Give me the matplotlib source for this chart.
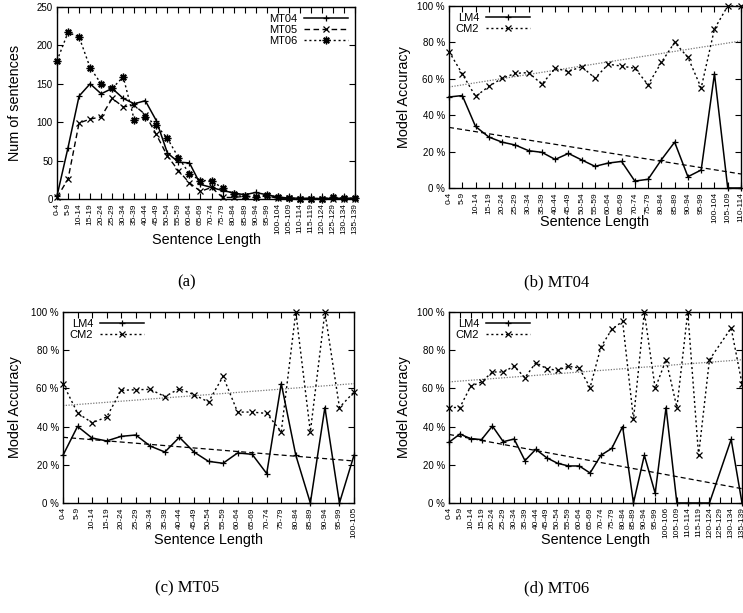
import numpy as np
import matplotlib
matplotlib.use("Agg")
import matplotlib.pyplot as plt
from matplotlib import font_manager

# ---------------- data ----------------
cats_a = ["0-4", "5-9", "10-14", "15-19", "20-24", "25-29", "30-34", "35-39", "40-44",
          "45-49", "50-54", "55-59", "60-64", "65-69", "70-74", "75-79", "80-84", "85-89",
          "90-94", "95-99", "100-104", "105-109", "110-114", "115-119", "120-124",
          "125-129", "130-134", "135-139"]
mt04 = [4, 67, 134, 150, 137, 144, 131, 124, 128, 102, 60, 48, 47, 19, 15, 11, 8, 5.5,
        8.5, 5.5, 2.5, 1.3, 1, 1, 0.5, 1, 1, 1]
mt05 = [2, 26, 99, 104, 107, 131, 120, 122, 110, 84, 56, 37, 21, 10, 15, 2, 2, 3.5,
        2, 4, 1, 1, 0.5, 0.5, 0, 0, 0, 0]
mt06 = [180, 217, 211, 171, 150, 144, 159, 103, 107, 96, 79, 54, 33, 24, 24, 14, 6.5, 4,
        2.5, 5.5, 2.5, 1, 0.5, 0.5, 0.5, 2, 1, 1]

cats_b = cats_a[:23]
lm4_b = [50, 50.8, 33.8, 28, 25.2, 23.6, 20.5, 19.6, 15.7, 19, 15.4, 11.9, 13.7, 14.6,
         3.8, 4.8, 15.5, 25.2, 6.2, 9.9, 62.7, 0, 0]
cm2_b = [75, 62.7, 50.3, 55.8, 60.3, 63, 63.4, 57, 65.8, 64, 66.7, 60.3, 68, 67, 65.8,
         56.7, 69, 80, 71.8, 55, 87.4, 100, 100]
fit_lm4_b = [33.3, 7.7]
fit_cm2_b = [55.5, 80.8]

cats_c = cats_a[:20] + ["100-105"]
lm4_c = [25, 40.1, 34, 32.5, 34.9, 35.6, 29.8, 26.7, 34.4, 26.7, 21.8, 20.8, 26.2, 25.5,
         15.4, 62.5, 25, 0, 50, 0, 25]
cm2_c = [62.5, 47.1, 42, 45, 59, 59.3, 59.5, 55.7, 59.9, 56.7, 52.9, 66.3, 47.6, 47.6,
         46.9, 37.3, 100, 37.3, 100, 50, 58.1]
fit_lm4_c = [34.4, 22]
fit_cm2_c = [51, 62.5]

cats_d = cats_a[:20] + ["100-106"] + cats_a[21:]
lm4_d = [31.8, 36.1, 33.7, 33.2, 40.3, 32.1, 33.5, 22.2, 28.1, 23.7, 20.8, 19.4, 19.4,
         15.7, 25, 28.6, 40, 0, 25, 5.1, 50, 0, 0, 0, 0, np.nan, 33.3, 0]
cm2_d = [50, 50, 61.1, 63.4, 68.6, 68.6, 71.6, 65.6, 73.5, 70.3, 69.5, 71.6, 70.7, 60.4,
         81.7, 90.9, 95.1, 43.8, 100, 60, 75, 50, 100, 25, 75, np.nan, 91.6, 62.5]
fit_lm4_d = [35.9, 7.5]
fit_cm2_d = [63.4, 75]

# ---------------- style ----------------
plt.rcParams['font.family'] = ['Liberation Sans', 'DejaVu Sans']
installed = {f.name for f in font_manager.fontManager.ttflist}
if 'Liberation Sans Narrow' in installed:
    XT_FAM, XT_FS = ['Liberation Sans Narrow', 'Liberation Sans'], 7
else:
    XT_FAM, XT_FS = ['Liberation Sans', 'DejaVu Sans'], 6
TICK_FS = 7
LAB_FS = 10.4
DOT = (0, (1.5, 2.0))
DASH = (0, (4, 2.5))
star = (8, 2, 0)

fig = plt.figure(figsize=(7.43, 6.13), dpi=100)

def setup(ax, cats, ylim, yticks, ylabels, ylabel, xlab_y, ylab_x):
    n = len(cats)
    ax.set_xlim(0, n - 1)
    ax.set_ylim(*ylim)
    ax.set_xticks(np.arange(n))
    ax.set_xticklabels(cats, rotation=90, fontsize=XT_FS, family=XT_FAM)
    ax.set_yticks(yticks)
    ax.set_yticklabels(ylabels, fontsize=TICK_FS)
    ax.tick_params(direction='in', length=4, width=0.8, top=True, right=True, pad=3)
    for s in ax.spines.values():
        s.set_linewidth(1.0)
    ax.set_xlabel("Sentence Length", fontsize=LAB_FS)
    ax.xaxis.set_label_coords(0.5, xlab_y)
    ax.xaxis.label.set_va('center')
    ax.set_ylabel(ylabel, fontsize=LAB_FS)
    ax.yaxis.set_label_coords(ylab_x, 0.5)
    ax.yaxis.label.set_va('center')

def series(ax, vals, **kw):
    y = np.array(vals, dtype=float)
    x = np.arange(len(y))
    ok = ~np.isnan(y)
    return ax.plot(x[ok], y[ok], clip_on=False, color='black', **kw)

# (a)
axa = fig.add_axes([57/743, 1 - 199/613, 298/743, 192/613])
series(axa, mt04, lw=1.1, ls='-', marker='+', ms=5, mew=0.9, label='MT04')
series(axa, mt05, lw=1.0, ls=DASH, marker='x', ms=4.5, mew=0.9, label='MT05')
series(axa, mt06, lw=1.0, ls=DOT, marker=star, ms=5.5, mew=1.0, label='MT06')
setup(axa, cats_a, (0, 250), [0, 50, 100, 150, 200, 250],
      ["0", "50", "100", "150", "200", "250"], "Num of sentences", -0.215, -0.14)
axa.legend(loc='upper right', frameon=False, markerfirst=False, fontsize=8,
           handlelength=4.0, handletextpad=0.6, labelspacing=0.1,
           borderaxespad=0.2)

pct = [0, 20, 40, 60, 80, 100]
pctl = ["0 %", "20 %", "40 %", "60 %", "80 %", "100 %"]

def acc_panel(rect, cats, lm4, cm2, flm, fcm, xlab_y, ylab_x):
    ax = fig.add_axes(rect)
    n = len(cats)
    ax.plot([0, n - 1], flm, color='black', lw=0.9, ls=(0, (4, 2.5)))
    ax.plot([0, n - 1], fcm, color='#777777', lw=0.9, ls=(0, (1, 1.2)))
    series(ax, lm4, lw=1.1, ls='-', marker='+', ms=5, mew=0.9, label='LM4')
    series(ax, cm2, lw=1.0, ls=DOT, marker='x', ms=4.5, mew=0.9, label='CM2')
    setup(ax, cats, (0, 100), pct, pctl, "Model Accuracy", xlab_y, ylab_x)
    ax.legend(loc='upper left', frameon=False, markerfirst=False, fontsize=8,
              handlelength=4.0, handletextpad=0.6, labelspacing=0.1,
              borderaxespad=0.2)
    return ax

acc_panel([449/743, 1 - 188/613, 292/743, 182/613], cats_b, lm4_b, cm2_b,
          fit_lm4_b, fit_cm2_b, -0.185, -0.155)
acc_panel([63/743, 1 - 503/613, 291/743, 191/613], cats_c, lm4_c, cm2_c,
          fit_lm4_c, fit_cm2_c, -0.194, -0.165)
acc_panel([449/743, 1 - 503/613, 293/743, 191/613], cats_d, lm4_d, cm2_d,
          fit_lm4_d, fit_cm2_d, -0.194, -0.155)

capfont = dict(family=['Liberation Serif', 'DejaVu Serif'], fontsize=12,
               ha='center', va='center')
fig.text(187/743, 1 - 282/613, "(a)", **capfont)
fig.text(557/743, 1 - 282/613, "(b) MT04", **capfont)
fig.text(187/743, 1 - 588/613, "(c) MT05", **capfont)
fig.text(557/743, 1 - 588/613, "(d) MT06", **capfont)

fig.savefig("out.png", dpi=100)
